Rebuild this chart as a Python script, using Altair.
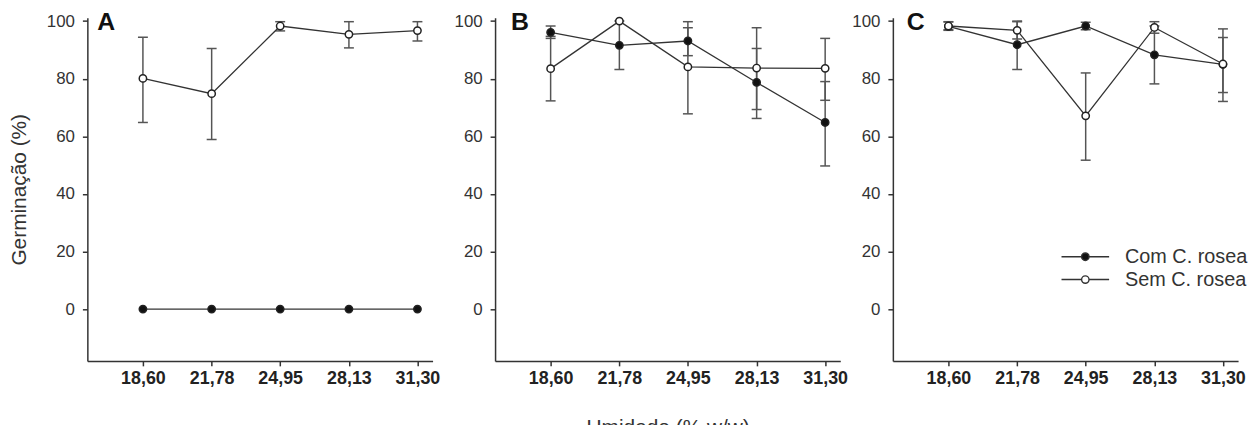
import altair as alt
import pandas as pd

# ---------------- data ----------------
umidade = [18.60, 21.78, 24.95, 28.13, 31.30]
x_ticks = [18.60, 21.78, 24.95, 28.13, 31.30]
y_ticks = [0, 20, 40, 60, 80, 100]
series_names = ["Com C. rosea", "Sem C. rosea"]
panels = ["A", "B", "C"]

# Panel A
A_com = [0, 0, 0, 0, 0]
A_com_lo = [0, 0, 0, 0, 0]
A_com_hi = [0, 0, 0, 0, 0]
A_sem = [80.1, 74.8, 98.3, 95.4, 96.7]
A_sem_lo = [64.8, 58.9, 96.6, 90.7, 93.1]
A_sem_hi = [94.4, 90.5, 99.8, 99.8, 99.8]

# Panel B
B_com = [96.1, 91.6, 93.1, 78.7, 64.8]
B_com_lo = [94.0, 83.2, 88.0, 66.2, 49.7]
B_com_hi = [98.3, 100.0, 97.7, 90.5, 79.0]
B_sem = [83.5, 100.0, 84.1, 83.7, 83.6]
B_sem_lo = [72.3, 100.0, 67.8, 69.3, 72.5]
B_sem_hi = [94.7, 100.0, 99.8, 97.7, 94.0]

# Panel C
C_com = [98.2, 91.8, 98.3, 88.3, 85.0]
C_com_lo = [96.8, 83.2, 97.0, 78.2, 75.2]
C_com_hi = [99.7, 100.0, 99.6, 98.3, 94.3]
C_sem = [98.3, 96.8, 67.1, 97.8, 85.1]
C_sem_lo = [97.0, 93.8, 51.7, 95.8, 72.1]
C_sem_hi = [99.8, 99.8, 82.0, 99.8, 97.3]

table = {
    "A": [(A_com, A_com_lo, A_com_hi), (A_sem, A_sem_lo, A_sem_hi)],
    "B": [(B_com, B_com_lo, B_com_hi), (B_sem, B_sem_lo, B_sem_hi)],
    "C": [(C_com, C_com_lo, C_com_hi), (C_sem, C_sem_lo, C_sem_hi)],
}

rows = []
for p in panels:
    for s_name, (m, lo, hi) in zip(series_names, table[p]):
        for i, xv in enumerate(umidade):
            rows.append({"panel": p, "series": s_name, "x": xv,
                         "y": m[i], "lo": lo[i], "hi": hi[i]})
df = pd.DataFrame(rows)

FONT = "Liberation Sans"
TXT = "#333333"
W, H = 348, 346
XDOM = [16.03, 32.0]
YDOM = [-18, 101.2]

LEG_PATH = ("M-4.8,0L-0.75,0M0.75,0L4.8,0"
            "M0.75,0A0.75,0.75,0,1,1,-0.75,0A0.75,0.75,0,1,1,0.75,0Z")


def make_panel(p, letter_x, y_title, x_title, spacer):
    d = df[df.panel == p]
    base = alt.Chart(d)

    xaxis = alt.Axis(values=x_ticks,
                     labelExpr="replace(format(datum.value, '.2f'), '.', ',')",
                     title=x_title if x_title else None,
                     labelFlush=False, grid=False)
    yaxis = alt.Axis(values=y_ticks, title=y_title if y_title else None,
                     grid=False, format="d")

    def X():
        return alt.X("x:Q", scale=alt.Scale(domain=XDOM, nice=False, zero=False), axis=xaxis)

    def Y(field):
        return alt.Y(f"{field}:Q", scale=alt.Scale(domain=YDOM, nice=False, zero=False), axis=yaxis)

    err = base.transform_filter("datum.hi > datum.lo")
    rule = err.mark_rule(color="#555555", strokeWidth=1.5).encode(
        x=X(), y=Y("lo"), y2="hi:Q")
    cap_lo = err.mark_tick(orient="horizontal", size=10, thickness=1.5,
                           color="#555555", opacity=1).encode(x=X(), y=Y("lo"))
    cap_hi = err.mark_tick(orient="horizontal", size=10, thickness=1.5,
                           color="#555555", opacity=1).encode(x=X(), y=Y("hi"))
    line = base.mark_line(color="#333333", strokeWidth=1.3).encode(
        x=X(), y=Y("y"), detail="series:N")
    pts = base.mark_point(shape="circle", filled=True, size=55, stroke="#222222",
                          strokeWidth=1.5, opacity=1).encode(
        x=X(), y=Y("y"),
        fill=alt.Fill("series:N",
                      scale=alt.Scale(domain=series_names, range=["#111111", "#ffffff"]),
                      legend=alt.Legend(orient="none", legendX=996, legendY=231,
                                        title=None, symbolType=LEG_PATH,
                                        symbolSize=100, symbolStrokeColor="#333333",
                                        symbolStrokeWidth=1.4, labelFontSize=20,
                                        labelFont=FONT, labelColor=TXT,
                                        labelOffset=30, rowPadding=3, padding=0)))
    lab = alt.Chart(pd.DataFrame({"t": [p]})).mark_text(
        fontSize=25, fontWeight="bold", font=FONT, align="left",
        baseline="alphabetic", color="#111111").encode(
        text="t:N", x=alt.value(letter_x), y=alt.value(12))
    layers = [rule, cap_lo, cap_hi, line, pts, lab]
    if spacer:
        sp = alt.Chart(pd.DataFrame({"t": ["."]})).mark_text(
            opacity=0, align="right", fontSize=10).encode(
            text="t:N", x=alt.value(366), y=alt.value(200))
        layers.append(sp)
    return alt.layer(*layers).properties(width=W, height=H)


pa = make_panel("A", 10, "Germinação (%)", None, True)
pb = make_panel("B", 16, None, "Umidade (% w/w)", False)
pc = make_panel("C", 14, None, None, False)

chart = alt.hconcat(pa, pb, pc, spacing=3).properties(
    padding={"left": 0, "top": 0, "right": 0, "bottom": 0}
).configure_view(stroke=None).configure_axis(
    labelFont=FONT, titleFont=FONT,
    domainColor="#333333", domainWidth=1.5,
    tickColor="#333333", tickWidth=1.5, tickSize=5,
    labelColor=TXT, titleColor=TXT,
).configure_axisY(
    labelFontSize=17, labelPadding=8, titleFontSize=21, titleFontWeight="normal",
    titlePadding=17,
).configure_axisX(
    labelFontSize=18, labelFontWeight="bold", labelPadding=4, labelColor="#222222",
    titleFontSize=21, titleFontWeight="normal", titlePadding=29,
)

chart.save("out.html", embed_options={"renderer": "svg", "actions": False})
